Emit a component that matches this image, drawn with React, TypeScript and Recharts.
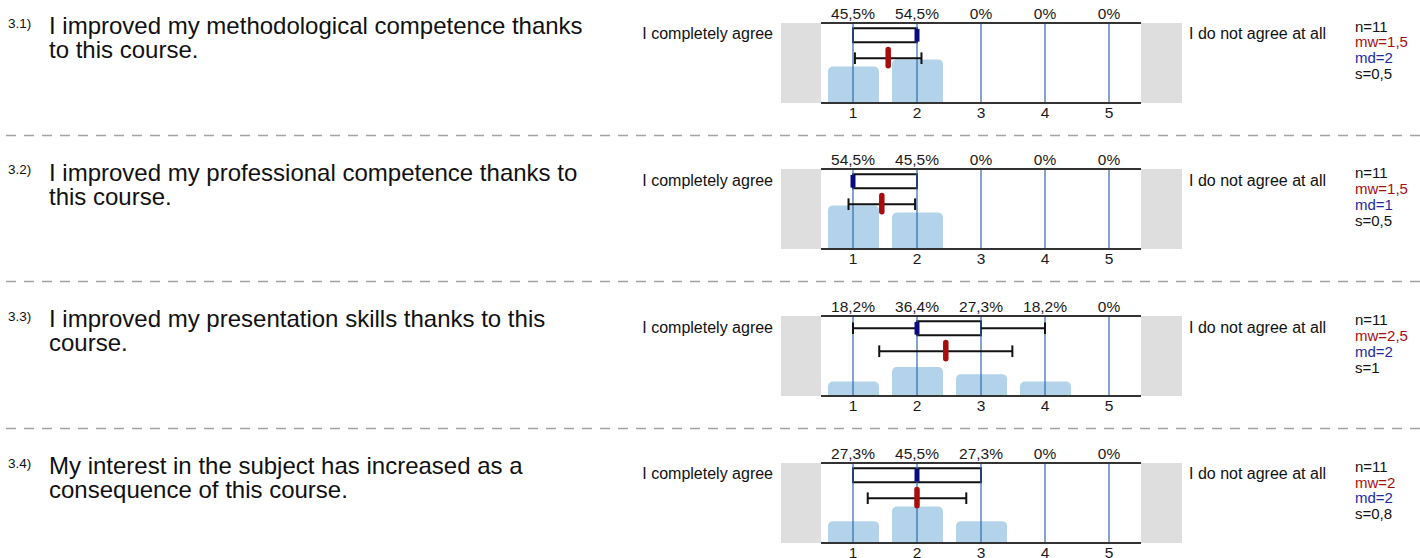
import { ComposedChart, Bar, XAxis, YAxis, ReferenceLine, ReferenceArea } from 'recharts';

// one entry per question
const QUESTION_NUMBERS = ['3.1)', '3.2)', '3.3)', '3.4)'];
const QUESTION_LINES = [
  ['I improved my methodological competence thanks', 'to this course.'],
  ['I improved my professional competence thanks to', 'this course.'],
  ['I improved my presentation skills thanks to this', 'course.'],
  ['My interest in the subject has increased as a', 'consequence of this course.'],
];
const SCALE = ['1', '2', '3', '4', '5'];
const SCALE_VALUES = [1, 2, 3, 4, 5];
const PERCENTS = [
  [45.5, 54.5, 0, 0, 0],
  [54.5, 45.5, 0, 0, 0],
  [18.2, 36.4, 27.3, 18.2, 0],
  [27.3, 45.5, 27.3, 0, 0],
];
const MEANS = [1.55, 1.45, 2.45, 2.0];
const STD_DEVS = [0.52, 0.52, 1.04, 0.77];
const MEDIANS = [2, 1, 2, 2];
const Q1 = [1, 1, 2, 1];
const Q3 = [2, 2, 3, 3];
const WHISKER_LO = [1, 1, 1, 1];
const WHISKER_HI = [2, 2, 4, 3];
const N_TEXT = ['n=11', 'n=11', 'n=11', 'n=11'];
const MW_TEXT = ['mw=1,5', 'mw=1,5', 'mw=2,5', 'mw=2'];
const MD_TEXT = ['md=2', 'md=1', 'md=2', 'md=2'];
const S_TEXT = ['s=0,5', 's=0,5', 's=1', 's=0,8'];

const LEFT_LABEL = 'I completely agree';
const RIGHT_LABEL = 'I do not agree at all';

const FIRST_TOP = 22.7;
const ROW_PITCH = 146.7;
const PLOT_H = 80;
const AXIS_H = 22;

// vertical levels inside the plot, on the 0..100 y scale
const BOX_TOP = 93.4;
const BOX_BOTTOM = 75.9;
const BOX_MID = (BOX_TOP + BOX_BOTTOM) / 2;
const CAP = 7.3;
const MEAN_Y = 56;
const MEAN_TOP = 67;
const MEAN_BOTTOM = 46.5;

const GRID_BLUE = '#2d69b0';
const MEAN_RED = '#a80d0d';
const MEDIAN_NAVY = '#0b0b80';

const fmtPct = (v: number) => (v === 0 ? '0%' : `${v.toFixed(1).replace('.', ',')}%`);

function seg(x1: number, y1: number, x2: number, y2: number) {
  return [{ x: x1, y: y1 }, { x: x2, y: y2 }];
}

function RowChart({ idx }: { idx: number }) {
  const data = SCALE.map((cat, i) => ({ cat, x: SCALE_VALUES[i], pct: PERCENTS[idx][i] }));
  const labels = PERCENTS[idx].map(fmtPct);
  const mean = MEANS[idx];
  const sd = STD_DEVS[idx];
  const lo = WHISKER_LO[idx];
  const hi = WHISKER_HI[idx];
  const q1 = Q1[idx];
  const q3 = Q3[idx];
  const black = { stroke: '#111', strokeWidth: 2 };

  return (
    <ComposedChart width={320} height={PLOT_H + AXIS_H * 2} data={data} margin={{ top: 0, right: 0, bottom: 0, left: 0 }}>
      <XAxis
        xAxisId="cat"
        dataKey="cat"
        orientation="bottom"
        height={AXIS_H}
        interval={0}
        axisLine={{ stroke: '#333', strokeWidth: 2 }}
        tickLine={false}
        tickSize={0}
        tickMargin={4}
        tick={{ fill: '#1a1a1a', fontSize: 15.5 }}
      />
      <XAxis
        xAxisId="top"
        dataKey="cat"
        orientation="top"
        height={AXIS_H}
        interval={0}
        axisLine={{ stroke: '#333', strokeWidth: 2 }}
        tickLine={false}
        tickSize={0}
        tickMargin={4}
        tick={{ fill: '#1a1a1a', fontSize: 15.5 }}
        tickFormatter={(_v: string, i: number) => labels[i]}
      />
      <XAxis xAxisId="num" dataKey="x" type="number" domain={[0.5, 5.5]} hide allowDataOverflow />
      <YAxis yAxisId="y" domain={[0, 100]} hide allowDataOverflow />
      <Bar
        xAxisId="cat"
        yAxisId="y"
        dataKey="pct"
        barSize={51}
        fill="#75afd9"
        fillOpacity={0.55}
        radius={[5, 5, 0, 0]}
        isAnimationActive={false}
      />
      {SCALE_VALUES.map((t) => (
        <ReferenceLine key={`g${t}`} xAxisId="num" yAxisId="y" x={t} stroke={GRID_BLUE} strokeWidth={1.2} />
      ))}
      {/* whiskers */}
      {lo < q1 && (
        <ReferenceLine xAxisId="num" yAxisId="y" segment={seg(lo, BOX_MID, q1, BOX_MID)} {...black} />
      )}
      {lo < q1 && (
        <ReferenceLine xAxisId="num" yAxisId="y" segment={seg(lo, BOX_MID - CAP, lo, BOX_MID + CAP)} {...black} />
      )}
      {hi > q3 && (
        <ReferenceLine xAxisId="num" yAxisId="y" segment={seg(q3, BOX_MID, hi, BOX_MID)} {...black} />
      )}
      {hi > q3 && (
        <ReferenceLine xAxisId="num" yAxisId="y" segment={seg(hi, BOX_MID - CAP, hi, BOX_MID + CAP)} {...black} />
      )}
      <ReferenceArea
        xAxisId="num"
        yAxisId="y"
        x1={q1}
        x2={q3}
        y1={BOX_BOTTOM}
        y2={BOX_TOP}
        fill="#fff"
        fillOpacity={1}
        {...black}
      />
      <ReferenceLine
        xAxisId="num"
        yAxisId="y"
        segment={seg(MEDIANS[idx], BOX_BOTTOM + 0.8, MEDIANS[idx], BOX_TOP - 0.8)}
        stroke={MEDIAN_NAVY}
        strokeWidth={5}
      />
      {/* mean +- standard deviation */}
      <ReferenceLine xAxisId="num" yAxisId="y" segment={seg(mean - sd, MEAN_Y, mean + sd, MEAN_Y)} {...black} />
      <ReferenceLine xAxisId="num" yAxisId="y" segment={seg(mean - sd, MEAN_Y - CAP, mean - sd, MEAN_Y + CAP)} {...black} />
      <ReferenceLine xAxisId="num" yAxisId="y" segment={seg(mean + sd, MEAN_Y - CAP, mean + sd, MEAN_Y + CAP)} {...black} />
      <ReferenceLine
        xAxisId="num"
        yAxisId="y"
        segment={seg(mean, MEAN_BOTTOM, mean, MEAN_TOP)}
        stroke={MEAN_RED}
        strokeWidth={5.5}
        strokeLinecap="round"
      />
    </ComposedChart>
  );
}

export default function App() {
  return (
    <div
      style={{
        position: 'absolute',
        left: 0,
        top: 0,
        width: 1420,
        height: 558,
        background: '#fff',
        color: '#111',
        fontFamily: '"Liberation Sans", Arial, sans-serif',
        overflow: 'hidden',
      }}
    >
      {QUESTION_NUMBERS.map((num, i) => {
        const T = FIRST_TOP + i * ROW_PITCH;
        return (
          <div key={num}>
            <div style={{ position: 'absolute', left: 8, top: T - 6.1, fontSize: 13.5, lineHeight: '13.5px' }}>{num}</div>
            <div style={{ position: 'absolute', left: 49, top: T - 8.7, fontSize: 24, lineHeight: '24px', whiteSpace: 'nowrap' }}>
              {QUESTION_LINES[i].map((line) => (
                <div key={line}>{line}</div>
              ))}
            </div>
            <div
              style={{
                position: 'absolute',
                left: 560,
                width: 213,
                top: T + 3.5,
                textAlign: 'right',
                fontSize: 16,
                lineHeight: '16px',
                whiteSpace: 'nowrap',
              }}
            >
              {LEFT_LABEL}
            </div>
            <div style={{ position: 'absolute', left: 781, top: T, width: 40, height: PLOT_H, background: '#dedede' }} />
            <div style={{ position: 'absolute', left: 821, top: T - AXIS_H }}>
              <RowChart idx={i} />
            </div>
            <div style={{ position: 'absolute', left: 1141, top: T, width: 41, height: PLOT_H, background: '#dedede' }} />
            <div style={{ position: 'absolute', left: 1189, top: T + 3.5, fontSize: 16, lineHeight: '16px', whiteSpace: 'nowrap' }}>
              {RIGHT_LABEL}
            </div>
            <div style={{ position: 'absolute', left: 1355, top: T - 4.15, fontSize: 15, lineHeight: '15.9px', whiteSpace: 'nowrap' }}>
              <div>{N_TEXT[i]}</div>
              <div style={{ color: MEAN_RED }}>{MW_TEXT[i]}</div>
              <div style={{ color: '#1c2a9e' }}>{MD_TEXT[i]}</div>
              <div>{S_TEXT[i]}</div>
            </div>
            {i < QUESTION_NUMBERS.length - 1 && (
              <svg style={{ position: 'absolute', left: 0, top: T + 111 }} width={1420} height={3}>
                <line x1={6} y1={1.5} x2={1420} y2={1.5} stroke="#a3a3a3" strokeWidth={1.5} strokeDasharray="10 8" />
              </svg>
            )}
          </div>
        );
      })}
    </div>
  );
}
